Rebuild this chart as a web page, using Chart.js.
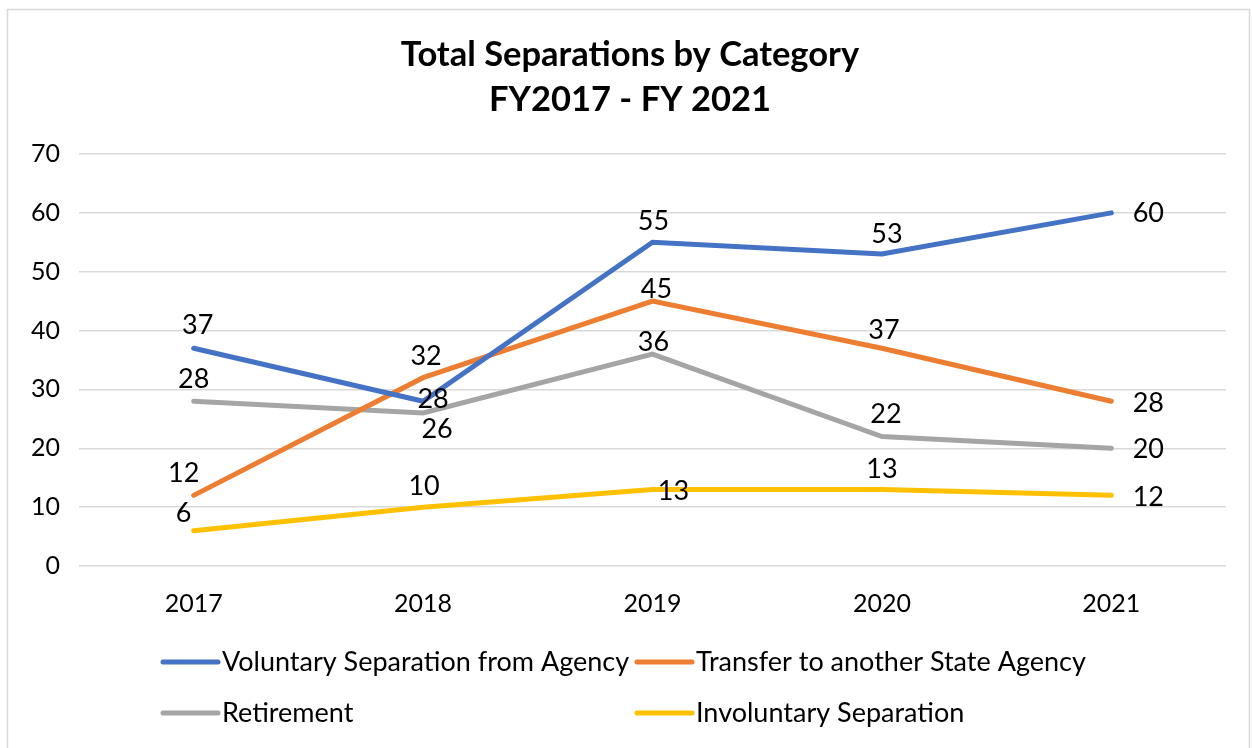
<!DOCTYPE html>
<html>
<head>
<meta charset="utf-8">
<script src="https://cdn.jsdelivr.net/npm/chart.js@4.4.1/dist/chart.umd.min.js"></script>
<style>
  html, body { margin: 0; padding: 0; background: #fff; }
  #wrap { width: 1252px; height: 748px; position: relative; }
</style>
</head>
<body>
<div id="wrap"><canvas id="sepChart"></canvas></div>
<script>
// data
const titleLines = ['Total Separations by Category', 'FY2017 - FY 2021'];
const years = ['2017', '2018', '2019', '2020', '2021'];
const voluntary = [37, 28, 55, 53, 60];
const transfer = [12, 32, 45, 37, 28];
const retirement = [28, 26, 36, 22, 20];
const involuntary = [6, 10, 13, 13, 12];
const yTicks = [0, 10, 20, 30, 40, 50, 60, 70];

// label nudges in px (dx, dy) from each point - style only
const labelNudge = [
    [[4, -23], [10, -2], [1, -21], [5, -20], [37, 0]],
    [[-10, -22], [3, -21], [4, -12], [2, -18], [37, 2]],
    [[0, -22], [14, 16], [1, -12], [4, -22], [37, 1]],
    [[-10, -17], [1, -21], [21, 2], [0, -20], [37, 2]]
];

const FONT = 'Lato, "Open Sans", sans-serif';

const pointLabels = {
    id: 'pointLabels',
    afterDatasetsDraw(chart) {
        const ctx = chart.ctx;
        ctx.save();
        ctx.font = '27px ' + FONT;
        ctx.fillStyle = '#000';
        ctx.textAlign = 'center';
        ctx.textBaseline = 'middle';
        chart.data.datasets.forEach((ds, i) => {
            chart.getDatasetMeta(i).data.forEach((pt, j) => {
                const n = labelNudge[i][j];
                ctx.fillText(ds.data[j], pt.x + n[0], pt.y + n[1]);
            });
        });
        ctx.restore();
    }
};

// title sits a bit right of the canvas centre in the original
const titleBlock = {
    id: 'titleBlock',
    afterDraw(chart) {
        const ctx = chart.ctx;
        ctx.save();
        ctx.font = 'bold 34.5px ' + FONT;
        ctx.fillStyle = '#000';
        ctx.textAlign = 'center';
        ctx.textBaseline = 'middle';
        titleLines.forEach((t, i) => ctx.fillText(t, 630, 55 + i * 45));
        ctx.restore();
    }
};

// two-column legend like the Excel one
const legendGrid = {
    id: 'legendGrid',
    afterDraw(chart) {
        const ctx = chart.ctx;
        const cols = [163, 637];
        const rows = [662, 713];
        ctx.save();
        ctx.font = '27px ' + FONT;
        ctx.textBaseline = 'middle';
        ctx.lineCap = 'round';
        chart.data.datasets.forEach((ds, i) => {
            const x = cols[i % 2], y = rows[Math.floor(i / 2)];
            ctx.strokeStyle = ds.borderColor;
            ctx.lineWidth = 5;
            ctx.beginPath();
            ctx.moveTo(x, y);
            ctx.lineTo(x + 55, y);
            ctx.stroke();
            ctx.fillStyle = '#000';
            ctx.fillText(ds.label, x + 59, y);
        });
        ctx.restore();
    }
};

const frame = {
    id: 'frame',
    beforeDraw(chart) {
        const ctx = chart.ctx;
        ctx.save();
        ctx.fillStyle = '#fff';
        ctx.fillRect(0, 0, chart.width, chart.height);
        ctx.strokeStyle = '#d9d9d9';
        ctx.lineWidth = 1.5;
        ctx.strokeRect(7.5, 9.5, 1242, 760);
        ctx.restore();
    }
};

function line(label, data, color) {
    return {
        label: label,
        data: data,
        borderColor: color,
        backgroundColor: color,
        borderWidth: 5,
        borderCapStyle: 'round',
        pointRadius: 0,
        tension: 0
    };
}

new Chart(document.getElementById('sepChart'), {
    type: 'line',
    data: {
        labels: years,
        datasets: [
            line('Voluntary Separation from Agency', voluntary, '#4472C4'),
            line('Transfer to another State Agency', transfer, '#ED7D31'),
            line('Retirement', retirement, '#A5A5A5'),
            line('Involuntary Separation', involuntary, '#FFC000')
        ]
    },
    options: {
        responsive: true,
        maintainAspectRatio: false,
        animation: false,
        layout: { padding: { top: 154, left: 12, right: 26, bottom: 114 } },
        plugins: {
            legend: { display: false },
            tooltip: { enabled: false },
            title: { display: false }
        },
        scales: {
            x: {
                offset: true,
                grid: { display: false },
                border: { display: false },
                ticks: { color: '#000', padding: 15, font: { family: FONT, size: 25 } }
            },
            y: {
                min: 0,
                max: 70,
                afterBuildTicks(scale) { scale.ticks = yTicks.map(v => ({ value: v })); },
                grid: { color: '#d9d9d9', lineWidth: 1.5, drawTicks: false },
                border: { display: false },
                ticks: { color: '#000', padding: 19, font: { family: FONT, size: 25 } }
            }
        }
    },
    plugins: [frame, pointLabels, titleBlock, legendGrid]
});
</script>
</body>
</html>
